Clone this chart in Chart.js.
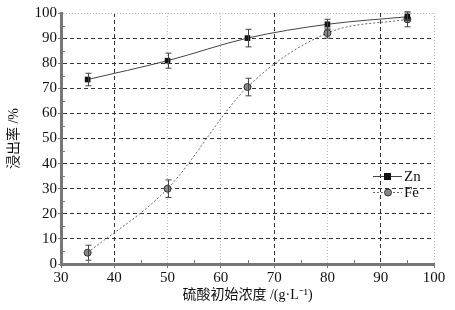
<!DOCTYPE html>
<html><head><meta charset="utf-8">
<script src="https://cdn.jsdelivr.net/npm/chart.js@4"></script>
<style>html,body{margin:0;padding:0;background:#fff}#wrap{width:455px;height:310px}</style>
</head><body><div id="wrap"><canvas id="c" width="455" height="310"></canvas></div>
<script>
const concentrations = [35, 50, 65, 80, 95];
const znValues = [73.5, 81, 90, 95.5, 98.5];
const znErrors = [2.5, 3, 3.5, 2, 1.5];
const feValues = [4.5, 30, 70.5, 92, 97.5];
const feErrors = [3, 3.5, 3.5, 2, 3];
const xTicks = [30, 40, 50, 60, 70, 80, 90, 100];
const yTicks = [0, 10, 20, 30, 40, 50, 60, 70, 80, 90, 100];
const seriesLabels = ['Zn', 'Fe'];
const xTitle = '硫酸初始浓度 /(g·L⁻¹)';
const yTitle = '浸出率 /%';

const serif = "'Liberation Serif', 'Noto Sans CJK SC', serif";
const errs = [znErrors, feErrors];

const errorBars = {
  id: 'errorBars',
  afterDatasetsDraw(chart) {
    const ctx = chart.ctx, xs = chart.scales.x, ys = chart.scales.y;
    ctx.save();
    ctx.strokeStyle = '#444'; ctx.lineWidth = 1;
    chart.data.datasets.forEach((ds, i) => {
      ds.data.forEach(p => {
        const idx = ds.data.indexOf(p);
        const e = errs[i][idx];
        const x = Math.round(xs.getPixelForValue(p.x)) + 0.5;
        const y1 = ys.getPixelForValue(p.y - e), y2 = ys.getPixelForValue(p.y + e);
        ctx.beginPath();
        ctx.moveTo(x, y1); ctx.lineTo(x, y2);
        ctx.moveTo(x - 3, y1); ctx.lineTo(x + 3, y1);
        ctx.moveTo(x - 3, y2); ctx.lineTo(x + 3, y2);
        ctx.stroke();
      });
    });
    ctx.restore();
  }
};

const extras = {
  id: 'extras',
  afterDraw(chart) {
    const ctx = chart.ctx, xs = chart.scales.x, ys = chart.scales.y, a = chart.chartArea;
    ctx.save();
    ctx.strokeStyle = '#777'; ctx.lineWidth = 1;
    // minor ticks
    for (let v = 5; v < 100; v += 10) {
      const y = Math.round(ys.getPixelForValue(v)) + 0.5;
      ctx.beginPath(); ctx.moveTo(a.left, y); ctx.lineTo(a.left + 4, y); ctx.stroke();
    }
    for (let v = 35; v < 100; v += 10) {
      const x = Math.round(xs.getPixelForValue(v)) + 0.5;
      ctx.beginPath(); ctx.moveTo(x, a.bottom); ctx.lineTo(x, a.bottom - 4); ctx.stroke();
    }
    // legend
    const items = chart.data.datasets;
    const lx = 373, ly = [176, 192];
    items.forEach((ds, i) => {
      const y = ly[i];
      ctx.strokeStyle = ds.borderColor; ctx.lineWidth = 1;
      ctx.setLineDash(ds.borderDash || []);
      ctx.beginPath(); ctx.moveTo(lx, y + 0.5); ctx.lineTo(lx + 29, y + 0.5); ctx.stroke();
      ctx.setLineDash([]);
      ctx.fillStyle = ds.pointBackgroundColor; ctx.strokeStyle = ds.pointBorderColor;
      if (ds.pointStyle === 'rect') {
        ctx.fillRect(lx + 11, y - 3, 7, 7);
      } else {
        ctx.beginPath(); ctx.arc(lx + 15, y + 0.5, 3.5, 0, Math.PI * 2); ctx.fill(); ctx.stroke();
      }
      ctx.fillStyle = '#111'; ctx.font = "15px " + serif; ctx.textBaseline = 'middle';
      ctx.fillText(ds.label, lx + 31, y + 1);
    });
    ctx.restore();
  }
};

const gridStyle = {
  x: v => (v === 40 || v === 70 || v === 90) ? 'dark' : 'light',
  y: v => (v === 100) ? 'light' : 'dark'
};

function gridColor(axis) {
  return c => {
    const v = c.tick && c.tick.value;
    if ((axis === 'x' && v === 30) || (axis === 'y' && v === 0)) return 'rgba(0,0,0,0)';
    return gridStyle[axis](v) === 'dark' ? '#333' : '#bbb';
  };
}
function gridDash(axis) {
  return c => {
    const v = c.tick && c.tick.value;
    return gridStyle[axis](v) === 'dark' ? [4, 3] : [1, 2];
  };
}

new Chart(document.getElementById('c'), {
  type: 'scatter',
  data: {
    datasets: [
      {
        label: seriesLabels[0],
        data: concentrations.map((x, i) => ({ x, y: znValues[i] })),
        showLine: true, tension: 0.4, cubicInterpolationMode: 'monotone',
        borderColor: '#444', borderWidth: 1,
        pointStyle: 'rect', pointRadius: 4, pointBackgroundColor: '#111', pointBorderColor: '#111', pointBorderWidth: 0
      },
      {
        label: seriesLabels[1],
        data: concentrations.map((x, i) => ({ x, y: feValues[i] })),
        showLine: true, cubicInterpolationMode: 'monotone',
        borderColor: '#666', borderWidth: 1, borderDash: [2, 2],
        pointStyle: 'circle', pointRadius: 3.5, pointBackgroundColor: '#888', pointBorderColor: '#333', pointBorderWidth: 1
      }
    ]
  },
  options: {
    responsive: false, animation: false,
    layout: { padding: { top: 13, right: 21, left: 0, bottom: 0 } },
    plugins: { legend: { display: false }, tooltip: { enabled: false } },
    scales: {
      x: {
        type: 'linear', min: 30, max: 100,
        afterBuildTicks: s => { s.ticks = xTicks.map(v => ({ value: v })); },
        afterFit: s => { s.height = 46; },
        ticks: { color: '#111', font: { family: serif, size: 15 }, padding: 1, maxRotation: 0 },
        grid: { color: gridColor('x'), lineWidth: 1, tickLength: 4, tickColor: '#777', tickWidth: 1 },
        border: { color: '#777', width: 3, dash: gridDash('x') },
        title: { display: true, text: xTitle, color: '#111', font: { family: serif, size: 14 }, padding: { top: 0, bottom: 6 } }
      },
      y: {
        type: 'linear', min: 0, max: 100,
        afterBuildTicks: s => { s.ticks = yTicks.map(v => ({ value: v })); },
        afterFit: s => { s.width = 61; },
        ticks: { color: '#111', font: { family: serif, size: 15 }, padding: 1 },
        grid: { color: gridColor('y'), lineWidth: 1, tickLength: 3, tickColor: '#777', tickWidth: 1 },
        border: { color: '#777', width: 3, dash: gridDash('y') },
        title: { display: true, text: yTitle, color: '#111', font: { family: serif, size: 14 }, padding: { top: 6, bottom: 0 } }
      }
    }
  },
  plugins: [errorBars, extras]
});
</script></body></html>
